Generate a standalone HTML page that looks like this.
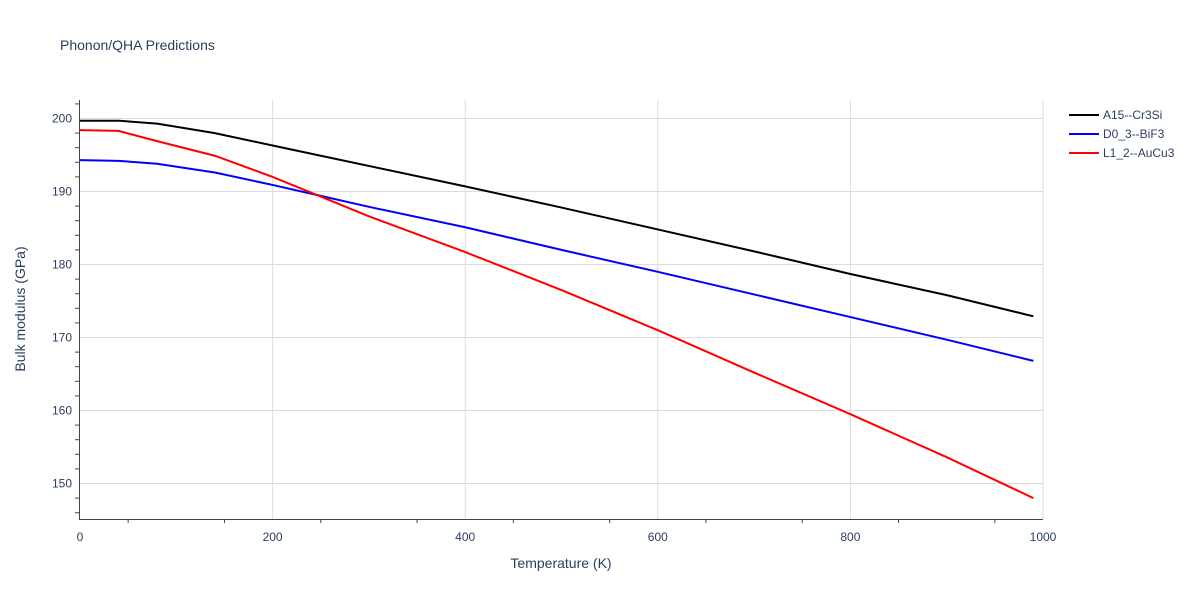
<!DOCTYPE html>
<html><head><meta charset="utf-8"><style>
body{margin:0;background:#fff;font-family:"Liberation Sans",sans-serif}
text{font-family:"Liberation Sans",sans-serif;fill:#2a3f5f}
</style></head><body>
<svg id="c" width="1200" height="600">
<text x="60" y="50" font-size="14">Phonon/QHA Predictions</text>
<g id="grid"></g><g id="axes"></g><g id="lines"></g>
<text x="561" y="568" font-size="14" text-anchor="middle">Temperature (K)</text>
<text transform="translate(25,309) rotate(-90)" font-size="14" text-anchor="middle">Bulk modulus (GPa)</text>
<g id="legend"></g>
</svg>
<script>
const temps=[0,40,80,140,200,250,300,400,500,600,700,800,900,990];
const seriesNames=["A15--Cr3Si","D0_3--BiF3","L1_2--AuCu3"];
const seriesColors=["#000000","#0000ff","#ff0000"];
const a15=[199.7,199.7,199.3,198.0,196.3,194.9,193.5,190.7,187.8,184.8,181.8,178.7,175.8,172.9];
const d03=[194.3,194.2,193.8,192.6,190.9,189.4,187.9,185.1,182.0,179.0,175.9,172.8,169.7,166.8];
const l12=[198.4,198.3,196.9,194.9,192.0,189.3,186.6,181.7,176.5,171.0,165.2,159.5,153.6,148.0];
const xTicks=[0,200,400,600,800,1000];
const yTicks=[150,160,170,180,190,200];
const ns="http://www.w3.org/2000/svg";
const X=v=>80+v*0.963, Y=v=>118.5+(200-v)*7.3;
function mk(t,a,p){const e=document.createElementNS(ns,t);for(const k in a)e.setAttribute(k,a[k]);p.appendChild(e);return e;}
const g=document.getElementById('grid'),ax=document.getElementById('axes'),L=document.getElementById('lines'),lg=document.getElementById('legend');
xTicks.forEach(v=>{
 if(v>0){const l=mk('line',{x1:X(v),x2:X(v),y1:100,y2:519,stroke:'#ddd'},g);
 
 }
 const t=mk('text',{x:X(v),y:541,'font-size':12,'text-anchor':'middle'},ax);t.textContent=v;
 
 
});
for(let v=50;v<1000;v+=100){mk('line',{x1:X(v),x2:X(v),y1:519,y2:523,stroke:'#444'},ax);}
yTicks.forEach(v=>{
 const l=mk('line',{x1:80,x2:1043,y1:Y(v),y2:Y(v),stroke:'#ddd'},g);
 
 
 const t=mk('text',{x:72,y:Y(v)+4,'font-size':12,'text-anchor':'end'},ax);t.textContent=v;
 
 
});
for(let v=146;v<=202;v+=2){if(v%10)mk('line',{x1:75,x2:79,y1:Y(v),y2:Y(v),stroke:'#444'},ax);}
mk('line',{x1:79.5,x2:79.5,y1:100,y2:519,stroke:'#444'},ax);
mk('line',{x1:79,x2:1043,y1:519.5,y2:519.5,stroke:'#444'},ax);
[a15,d03,l12].forEach((s,i)=>{
 const p=mk('polyline',{points:s.map((v,j)=>X(temps[j])+','+Y(v)).join(' '),fill:'none',stroke:seriesColors[i],'stroke-width':2},L);
 
 
 const y=115+i*19;
 const e=mk('g',{},lg);
 
 
 mk('line',{x1:1069,x2:1099,y1:y,y2:y,stroke:seriesColors[i],'stroke-width':2},e);
 const t=mk('text',{x:1103,y:y+4,'font-size':12},e);t.textContent=seriesNames[i];
});
</script>
</body></html>
